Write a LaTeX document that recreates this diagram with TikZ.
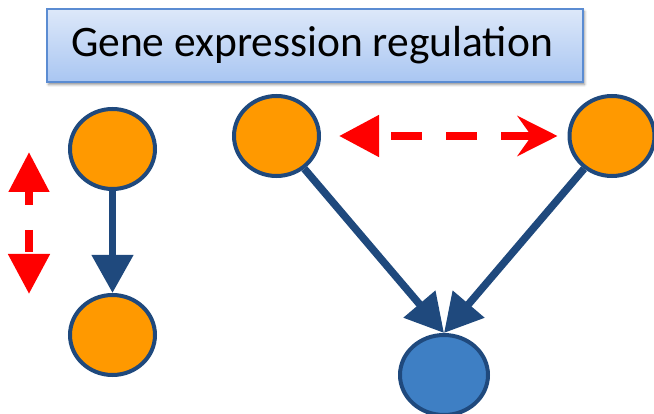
\documentclass[tikz,border=0pt]{standalone}
\usepackage{fontspec}
\setmainfont{Carlito}
\usetikzlibrary{arrows.meta,shadows.blur,shapes.geometric}

\definecolor{geneorange}{HTML}{FF9900}
\definecolor{geneedge}{HTML}{1F497D}
\definecolor{targetblue}{HTML}{3E7FC4}
\definecolor{titletop}{HTML}{DDE8F9}
\definecolor{titlebottom}{HTML}{A9C6F2}
\definecolor{titleedge}{HTML}{5B8CD2}

\tikzset{
  gene/.style={ellipse, draw=geneedge, line width=4pt, fill=geneorange,
    minimum width=85pt, minimum height=80pt, inner sep=0pt},
  target/.style={gene, fill=targetblue, minimum width=88pt},
  regulates/.style={draw=geneedge, line width=7.5pt,
    -{Triangle[length=38pt,width=40pt]}},
  covary/.style={draw=red, line width=8pt},
  titlebox/.style={rectangle, draw=titleedge, line width=1.5pt,
    top color=titletop, bottom color=titlebottom,
    minimum width=536pt, minimum height=73pt, inner sep=0pt,
    blur shadow={shadow xshift=1.5pt, shadow yshift=-2.5pt,
      shadow blur radius=2.5pt, shadow opacity=45},
    font=\fontsize{43.5}{50}\selectfont}
}

\begin{document}
\begin{tikzpicture}[x=1pt,y=-1pt]
\useasboundingbox (0,0) rectangle (654,414);

% title
\node[titlebox] (title) at (315,45.5) {\hspace*{-6pt}Gene expression regulation};

% left pair: one gene regulating another
\node[gene] (ga) at (112.5,149) {};
\node[gene] (gb) at (112.5,335) {};
\draw[regulates] (ga.south) -- (gb.north);

% up / down change of expression
\coordinate (up) at (29,152);
\coordinate (down) at (29,294);
\draw[covary, dash pattern=on 15pt off 25pt on 22pt off 10pt,
  {Triangle[length=40pt,width=39pt]}-{Triangle[length=40pt,width=40pt]}]
  (up) -- (down);

% right: two co-regulated genes and their common target
\node[gene] (gl) at (276.5,136) {};
\node[gene] (gr) at (612,136) {};
\node[target] (t) at (444,375) {};
\draw[regulates] (gl) -- (t.north);
\draw[regulates] (gr) -- (t.north);

\draw[covary, dash pattern=on 31pt off 24pt, dash phase=41pt,
  shorten <=18pt, shorten >=10pt,
  {Triangle[length=40pt,width=40pt]}-{Stealth[length=40pt,width=40pt,inset=14pt]}]
  (gl) -- (gr);
\end{tikzpicture}
\end{document}
